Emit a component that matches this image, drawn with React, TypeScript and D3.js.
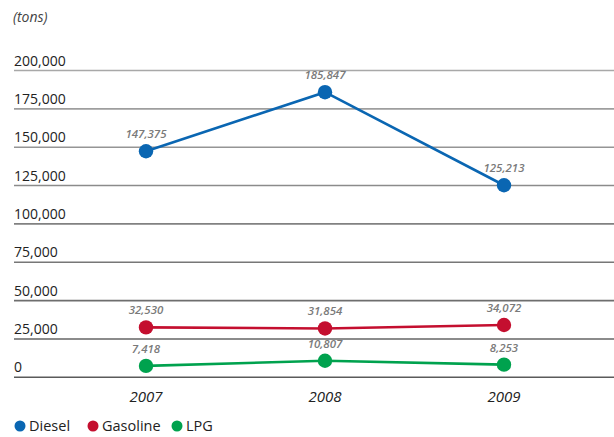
import React from "react";
import * as d3 from "d3";

const years = ["2007", "2008", "2009"];
const diesel = [147375, 185847, 125213];
const gasoline = [32530, 31854, 34072];
const lpg = [7418, 10807, 8253];
const yTicks = [0, 25000, 50000, 75000, 100000, 125000, 150000, 175000, 200000];
const seriesNames = ["Diesel", "Gasoline", "LPG"];
const seriesColors = ["#0a66b2", "#c40f2f", "#00a24e"];

const W = 614;
const H = 437;

export default function App() {
  const x = d3.scalePoint<string>().domain(years).range([146, 504]);
  const y = d3.scaleLinear().domain([0, 200000]).range([377.3, 70.5]);
  const fmt = d3.format(",");
  const series = [diesel, gasoline, lpg];
  const line = d3
    .line<number>()
    .x((_, i) => x(years[i]) as number)
    .y((d) => y(d));
  const gridColor = d3.scaleLinear<string>().domain([200000, 0]).range(["#a8a8a8", "#5a5a5a"]);
  const font = "'Open Sans', 'Noto Sans', sans-serif";
  const legendX = [20, 93, 177];

  return (
    <svg
      width={W}
      height={H}
      style={{ position: "absolute", left: 0, top: 0, background: "#fff" }}
      fontFamily={font}
    >
      <text x={13} y={22} fontSize={14} fontStyle="italic" fill="#444">
        (tons)
      </text>
      {yTicks.map((t) => (
        <g key={t}>
          <line x1={14} x2={W} y1={y(t)} y2={y(t)} stroke={gridColor(t)} strokeWidth={1.6} />
          <text x={14} y={y(t) - 5} fontSize={14} fill="#222">
            {fmt(t)}
          </text>
        </g>
      ))}
      {years.map((yr) => (
        <text
          key={yr}
          x={x(yr) as number}
          y={402}
          fontSize={15}
          fontStyle="italic"
          textAnchor="middle"
          fill="#222"
        >
          {yr}
        </text>
      ))}
      {series.map((s, si) => (
        <g key={si}>
          <path d={line(s) || ""} fill="none" stroke={seriesColors[si]} strokeWidth={2.6} />
          {s.map((v, i) => (
            <g key={i}>
              <circle cx={x(years[i]) as number} cy={y(v)} r={7.2} fill={seriesColors[si]} />
              <text
                x={x(years[i]) as number}
                y={y(v) - 13}
                fontSize={11.5}
                fontStyle="italic"
                fontWeight={600}
                textAnchor="middle"
                fill="#7a7a7a"
              >
                {fmt(v)}
              </text>
            </g>
          ))}
        </g>
      ))}
      {seriesNames.map((n, i) => (
        <g key={n}>
          <circle cx={legendX[i]} cy={426} r={5.5} fill={seriesColors[i]} />
          <text x={legendX[i] + 9} y={431} fontSize={14.5} fill="#222">
            {n}
          </text>
        </g>
      ))}
    </svg>
  );
}
